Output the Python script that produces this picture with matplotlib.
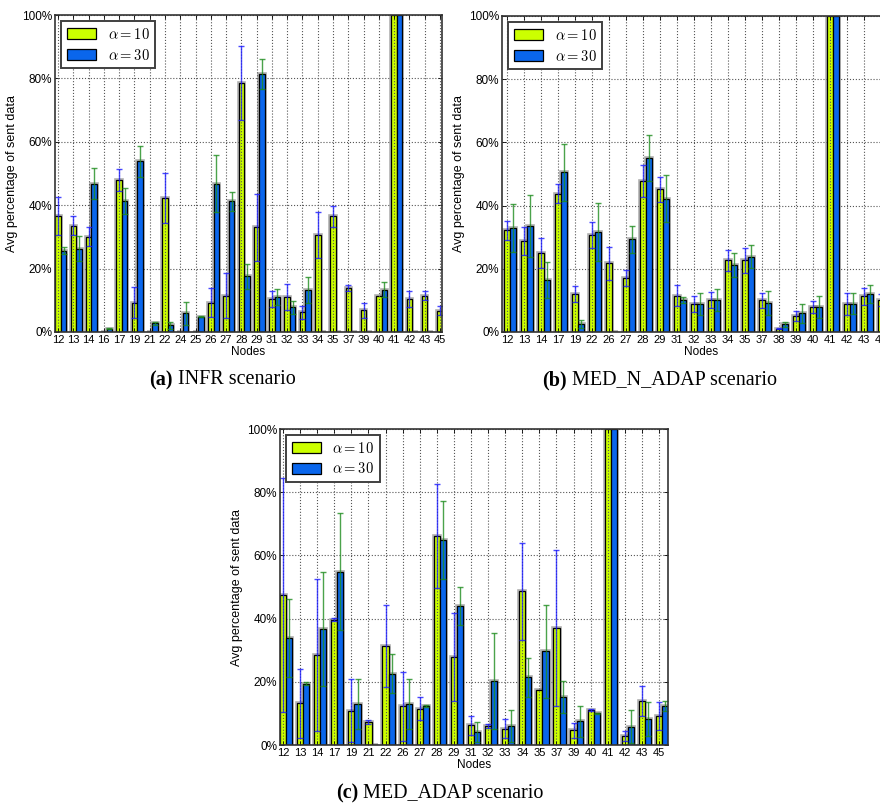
import numpy as np
import matplotlib
matplotlib.use("Agg")
import matplotlib.pyplot as plt

plt.rcParams['font.family'] = ['Liberation Sans', 'DejaVu Sans']
plt.rcParams['mathtext.fontset'] = 'cm'

# (a) INFR scenario
nodes_a = [12, 13, 14, 16, 17, 19, 21, 22, 24, 25, 26, 27, 28, 29, 31, 32, 33, 34, 35, 37, 39, 40, 41, 42, 43, 45]
infr_10 = [36.5, 33.5, 30.1, 0, 48.0, 9.3, 0, 42.3, 0, 0, 9.3, 11.5, 78.6, 33.0, 10.4, 11.0, 6.2, 30.6, 36.5, 13.9, 6.8, 11.5, 100, 10.4, 11.5, 6.7]
infr_10_err = [6.0, 3.0, 3.0, 0, 3.5, 4.8, 0, 8.0, 0, 0, 4.7, 7.0, 11.7, 10.6, 2.5, 4.0, 2.0, 7.2, 3.4, 1.0, 2.5, 0, 0, 2.4, 1.3, 1.4]
infr_30 = [25.7, 26.3, 46.8, 1.1, 41.3, 53.8, 2.7, 2.1, 5.9, 4.8, 46.8, 41.3, 17.6, 81.4, 11.0, 7.8, 13.3, 0, 0, 0, 0, 13.3, 100, 0, 0, 0]
infr_30_err = [1.2, 4.0, 5.0, 0.3, 4.0, 5.0, 0.5, 1.0, 3.7, 0.2, 9.0, 3.0, 4.0, 4.6, 2.5, 2.0, 4.0, 0, 0, 0, 0, 2.4, 0, 0, 0, 0]

# (b) MED_N_ADAP scenario
nodes_b = [12, 13, 14, 17, 19, 22, 26, 27, 28, 29, 31, 32, 33, 34, 35, 37, 38, 39, 40, 41, 42, 43, 45]
mna_10 = [32.2, 28.8, 25.1, 43.7, 12.1, 30.7, 21.8, 17.0, 47.8, 45.1, 11.5, 8.9, 10.2, 22.7, 22.7, 10.0, 1.1, 5.1, 7.9, 100, 8.9, 11.3, 10.1]
mna_10_err = [3.0, 4.4, 4.7, 3.0, 2.5, 4.0, 5.2, 2.6, 5.0, 4.0, 3.3, 2.6, 2.5, 3.3, 4.0, 2.5, 0.3, 1.7, 2.0, 0, 3.4, 2.6, 2.0]
mna_30 = [32.9, 33.4, 16.5, 50.5, 2.5, 31.6, 0, 29.3, 55.0, 42.2, 10.1, 8.9, 10.2, 21.2, 23.8, 9.2, 2.4, 6.0, 7.9, 100, 9.0, 12.1, 9.0]
mna_30_err = [7.6, 9.8, 5.7, 9.0, 1.2, 9.2, 0, 4.4, 7.3, 7.5, 1.0, 3.5, 3.5, 3.9, 3.6, 3.7, 0.8, 3.0, 3.5, 0, 3.3, 2.9, 2.0]

# (c) MED_ADAP scenario
nodes_c = [12, 13, 14, 17, 19, 21, 22, 26, 27, 28, 29, 31, 32, 33, 34, 35, 37, 39, 40, 41, 42, 43, 45]
ma_10 = [47.6, 13.2, 28.4, 39.6, 10.9, 7.3, 31.2, 12.2, 11.5, 66.1, 27.8, 6.2, 6.1, 5.1, 48.6, 17.4, 37.1, 4.6, 11.1, 100, 2.9, 14.0, 9.2]
ma_10_err = [37.0, 11.0, 24.0, 0.5, 10.0, 0.6, 13.0, 11.0, 3.6, 16.4, 14.0, 3.0, 0.6, 3.0, 15.3, 0, 24.6, 2.4, 0.3, 0, 1.6, 4.7, 4.4]
ma_30 = [33.9, 19.4, 36.6, 54.9, 13.0, 0, 22.5, 13.0, 12.4, 64.8, 44.1, 4.2, 20.3, 6.0, 21.4, 29.6, 15.1, 7.5, 10.0, 100, 5.8, 8.3, 12.3]
ma_30_err = [12.4, 0.5, 18.0, 18.5, 8.0, 0, 6.2, 8.0, 0.3, 12.4, 6.0, 3.2, 15.2, 5.0, 6.2, 14.7, 5.0, 5.0, 0.2, 0, 5.3, 5.3, 1.5]

YELLOW = '#CCFF00'
BLUE = '#0A66EC'
W = 0.36

fig = plt.figure(figsize=(8.8, 8.1), dpi=100)


def px_axes(left, right, top, bottom):
    return fig.add_axes([left / 880, 1 - bottom / 810, (right - left) / 880, (bottom - top) / 810])


def draw_panel(ax, nodes, v10, e10, v30, e30, xlim):
    x = np.arange(1, len(nodes) + 1)
    v10, e10, v30, e30 = map(np.asarray, (v10, e10, v30, e30))

    # soft gray shadow behind the bars
    ax.bar(x, v10, W, color='none', edgecolor='#7a7a7a', linewidth=2.6, alpha=0.6, zorder=2)
    ax.bar(x + W, v30, W, color='none', edgecolor='#7a7a7a', linewidth=2.6, alpha=0.6, zorder=2)
    ax.bar(x, v10, W, color=YELLOW, edgecolor='black', linewidth=0.9, zorder=3, label=r'$\alpha=10$')
    ax.bar(x + W, v30, W, color=BLUE, edgecolor='black', linewidth=0.9, zorder=3, label=r'$\alpha=30$')

    m = e10 > 0
    ax.errorbar(x[m], v10[m], yerr=e10[m], fmt='none', ecolor='#1a1aff', elinewidth=1.0,
                capsize=2, capthick=1.0, alpha=0.8, zorder=6)
    m = e30 > 0
    ax.errorbar(x[m] + W, v30[m], yerr=e30[m], fmt='none', ecolor='#1e8c1e', elinewidth=1.0,
                capsize=2, capthick=1.0, alpha=0.8, zorder=6)

    ax.set_xlim(*xlim)
    ax.set_ylim(0, 100)
    ax.set_xticks(x)
    ax.set_xticklabels([str(n) for n in nodes], fontsize=8)
    ax.set_yticks(np.arange(0, 101, 20))
    ax.set_yticklabels(['%d%%' % v for v in range(0, 101, 20)], fontsize=8.5)
    ax.tick_params(direction='in', top=True, right=True, length=3, width=0.6, pad=2)

    ax.grid(True, linestyle=':', color='#555555', linewidth=0.8)
    ax.xaxis.set_zorder(5)
    ax.yaxis.set_zorder(1)
    for s in ax.spines.values():
        s.set_linewidth(1.2)
        s.set_color('#333333')
        s.set_zorder(7)

    ax.set_xlabel('Nodes', fontsize=8.5, labelpad=1)
    ax.set_ylabel('Avg percentage of sent data', fontsize=9, labelpad=3)

    leg = ax.legend(loc='upper left', fontsize=10.5, handlelength=2.0, handleheight=0.75,
                    borderaxespad=0.4, fancybox=False, framealpha=1, borderpad=0.4,
                    labelspacing=0.4, handletextpad=0.8)
    leg.get_frame().set_edgecolor('#404040')
    leg.get_frame().set_linewidth(1.4)
    leg.set_zorder(10)


ax_a = px_axes(55, 442, 15, 332)
draw_panel(ax_a, nodes_a, infr_10, infr_10_err, infr_30, infr_30_err, (1 - 3 / 15.28, 1 + 384 / 15.28))

ax_b = px_axes(502, 900, 16, 332)
draw_panel(ax_b, nodes_b, mna_10, mna_10_err, mna_30, mna_30_err, (1 - 5 / 17.0, 1 + 393 / 17.0))

ax_c = px_axes(280, 668, 429, 745)
draw_panel(ax_c, nodes_c, ma_10, ma_10_err, ma_30, ma_30_err, (1 - 3 / 17.09, 1 + 385 / 17.09))

# captions, bold letter + normal text
captions = [('(a)', ' INFR scenario', 173, 380),
            ('(b)', ' MED_N_ADAP scenario', 567, 380),
            ('(c)', ' MED_ADAP scenario', 358, 793)]
for tag, rest, xs, ys in captions:
    fig.text(xs / 880, 1 - ys / 810, tag, ha='right', va='center', fontsize=14.5,
             fontweight='bold', family='Liberation Serif')
    fig.text(xs / 880, 1 - ys / 810, rest, ha='left', va='center', fontsize=14.5,
             family='Liberation Serif')

fig.savefig('out.png', dpi=100)
